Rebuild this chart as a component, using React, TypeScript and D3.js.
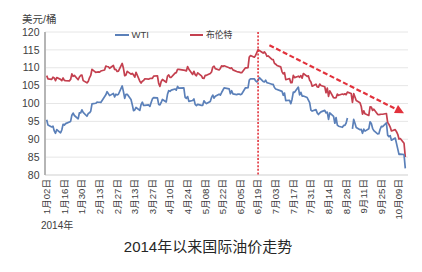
import React from "react";
import * as d3 from "d3";

// ---------- data ----------
const tradeDates = [
  "2014-01-02","2014-01-03","2014-01-06","2014-01-07","2014-01-08","2014-01-09","2014-01-10","2014-01-13","2014-01-14","2014-01-15","2014-01-16","2014-01-17","2014-01-20","2014-01-21","2014-01-22","2014-01-23","2014-01-24","2014-01-27","2014-01-28","2014-01-29","2014-01-30","2014-01-31",
  "2014-02-03","2014-02-04","2014-02-05","2014-02-06","2014-02-07","2014-02-10","2014-02-11","2014-02-12","2014-02-13","2014-02-14","2014-02-17","2014-02-18","2014-02-19","2014-02-20","2014-02-21","2014-02-24","2014-02-25","2014-02-26","2014-02-27","2014-02-28",
  "2014-03-03","2014-03-04","2014-03-05","2014-03-06","2014-03-07","2014-03-10","2014-03-11","2014-03-12","2014-03-13","2014-03-14","2014-03-17","2014-03-18","2014-03-19","2014-03-20","2014-03-21","2014-03-24","2014-03-25","2014-03-26","2014-03-27","2014-03-28","2014-03-31",
  "2014-04-01","2014-04-02","2014-04-03","2014-04-04","2014-04-07","2014-04-08","2014-04-09","2014-04-10","2014-04-11","2014-04-14","2014-04-15","2014-04-16","2014-04-17","2014-04-21","2014-04-22","2014-04-23","2014-04-24","2014-04-25","2014-04-28","2014-04-29","2014-04-30",
  "2014-05-01","2014-05-02","2014-05-05","2014-05-06","2014-05-07","2014-05-08","2014-05-09","2014-05-12","2014-05-13","2014-05-14","2014-05-15","2014-05-16","2014-05-19","2014-05-20","2014-05-21","2014-05-22","2014-05-23","2014-05-26","2014-05-27","2014-05-28","2014-05-29","2014-05-30",
  "2014-06-02","2014-06-03","2014-06-04","2014-06-05","2014-06-06","2014-06-09","2014-06-10","2014-06-11","2014-06-12","2014-06-13","2014-06-16","2014-06-17","2014-06-18","2014-06-19","2014-06-20","2014-06-23","2014-06-24","2014-06-25","2014-06-26","2014-06-27","2014-06-30",
  "2014-07-01","2014-07-02","2014-07-03","2014-07-04","2014-07-07","2014-07-08","2014-07-09","2014-07-10","2014-07-11","2014-07-14","2014-07-15","2014-07-16","2014-07-17","2014-07-18","2014-07-21","2014-07-22","2014-07-23","2014-07-24","2014-07-25","2014-07-28","2014-07-29","2014-07-30","2014-07-31",
  "2014-08-01","2014-08-04","2014-08-05","2014-08-06","2014-08-07","2014-08-08","2014-08-11","2014-08-12","2014-08-13","2014-08-14","2014-08-15","2014-08-18","2014-08-19","2014-08-20","2014-08-21","2014-08-22","2014-08-25","2014-08-26","2014-08-27","2014-08-28","2014-08-29",
  "2014-09-01","2014-09-02","2014-09-03","2014-09-04","2014-09-05","2014-09-08","2014-09-09","2014-09-10","2014-09-11","2014-09-12","2014-09-15","2014-09-16","2014-09-17","2014-09-18","2014-09-19","2014-09-22","2014-09-23","2014-09-24","2014-09-25","2014-09-26","2014-09-29","2014-09-30",
  "2014-10-01","2014-10-02","2014-10-03","2014-10-06","2014-10-07","2014-10-08","2014-10-09","2014-10-10","2014-10-13","2014-10-14",
];

const wtiPrices: (number | null)[] = [
  95.44,93.96,93.43,93.67,92.33,91.66,92.72,91.80,92.59,94.17,93.96,94.37,null,94.99,96.73,97.32,96.64,95.72,97.41,97.36,98.23,97.49,
  96.43,97.19,97.38,97.84,99.88,100.06,100.37,100.35,100.35,100.30,null,102.43,103.31,102.75,102.20,102.82,101.83,102.59,102.40,102.59,
  104.92,103.33,101.45,102.58,102.58,101.12,99.69,97.99,98.20,98.89,98.08,99.70,100.37,99.46,99.46,99.60,99.19,100.26,101.28,101.67,101.58,
  99.74,99.62,100.29,101.14,100.44,102.56,103.60,103.40,103.74,104.05,103.75,104.76,104.30,104.38,101.75,101.44,101.94,100.60,100.84,101.28,99.74,
  99.42,99.76,99.48,99.50,100.77,100.26,99.99,100.59,101.70,102.37,101.50,102.02,102.61,102.33,103.07,103.70,104.35,null,104.11,102.72,103.58,102.71,
  102.47,102.66,102.64,102.48,102.66,104.41,104.35,104.40,106.53,106.91,106.90,106.36,106.07,106.43,107.26,106.17,106.03,106.50,105.84,105.74,105.37,
  105.34,104.48,104.06,null,103.53,103.40,102.29,102.93,100.83,100.91,99.96,101.20,103.19,103.13,104.59,102.39,103.12,102.07,102.09,101.67,100.97,100.27,98.17,
  97.88,98.29,97.38,96.92,97.34,97.65,98.08,97.37,97.59,95.58,97.35,96.41,94.48,96.07,93.96,93.65,93.35,93.86,93.88,94.55,95.96,
  null,92.88,95.54,94.45,93.29,92.66,92.75,91.67,92.83,92.27,92.92,94.88,94.42,93.07,92.41,91.52,91.56,92.80,93.59,93.54,94.57,91.16,
  90.73,91.01,89.74,90.34,88.85,87.31,85.77,85.82,85.74,81.84,
];

const brentPrices: (number | null)[] = [
  107.78,106.89,106.73,107.35,107.15,106.39,107.25,106.75,106.39,107.13,106.48,106.39,106.35,106.73,108.27,107.59,107.88,106.65,107.41,107.85,107.95,106.40,
  105.78,106.17,107.18,107.84,109.57,108.68,108.80,108.82,108.79,109.08,109.36,110.47,110.35,110.29,109.85,110.64,109.51,109.52,108.96,109.07,
  111.20,109.84,107.76,107.99,109.00,108.21,108.42,108.02,107.36,108.74,106.24,105.73,106.25,106.45,106.92,106.81,106.99,107.03,107.02,107.66,107.76,
  105.62,104.79,106.15,106.72,105.93,107.67,107.98,107.32,107.33,108.50,108.63,109.56,109.53,null,109.27,109.12,110.33,109.58,108.12,108.98,108.07,
  107.76,108.59,107.72,107.06,107.04,107.89,107.89,108.41,108.83,110.19,110.44,109.75,109.37,109.81,110.55,110.36,110.54,null,110.02,109.81,109.97,109.41,
  108.94,108.82,108.80,108.61,108.61,109.99,109.99,110.03,113.02,113.41,112.94,113.45,114.26,115.06,114.81,114.12,114.46,114.00,113.21,113.30,112.36,
  112.29,111.24,111.00,110.64,110.24,108.94,108.28,108.66,106.66,106.98,105.83,105.85,107.89,107.24,107.63,107.33,107.80,107.07,108.39,107.60,107.72,106.51,106.02,
  104.84,105.41,104.61,104.59,105.44,105.02,104.68,103.02,104.29,102.01,103.53,101.60,101.56,101.65,102.63,102.29,102.65,102.49,102.72,102.46,103.19,
  102.79,100.34,102.77,101.83,100.82,100.20,99.16,97.04,97.95,97.11,96.65,99.05,98.97,98.08,98.39,96.97,96.85,96.95,97.00,97.00,97.20,94.67,
  94.16,93.42,92.31,92.69,92.11,91.38,90.05,90.21,88.89,85.04,
];

// dates where the WTI line shows a break in the source
const wtiGapDates = ["2014-09-01"];

const xTickLabels = [
  "1月02日","1月16日","1月30日","2月13日","2月27日","3月13日","3月27日","4月10日","4月24日","5月08日","5月22日",
  "6月05日","6月19日","7月03日","7月17日","7月31日","8月14日","8月28日","9月11日","9月25日","10月09日",
];
const yTicks = [80, 85, 90, 95, 100, 105, 110, 115, 120];

const seriesNames = ["WTI", "布伦特"];
const peakDate = "2014-06-19";
const trendFrom = { date: "2014-06-28", value: 116.3 };
const trendTo = { date: "2014-10-13", value: 97.3 };

const unitLabel = "美元/桶";
const yearLabel = "2014年";
const title = "2014年以来国际油价走势";

// ---------- chart ----------
const W = 422;
const H = 272;
const parse = d3.timeParse("%Y-%m-%d");
const FONT = "'Liberation Sans', Arial, 'Noto Sans CJK SC', sans-serif";
const BLUE = "#5b80b9";
const RED = "#c4404f";
const ARROW = "#e2323c";

function labelToDate(lbl: string): Date {
  const m = lbl.match(/(\d+)月(\d+)日/)!;
  return new Date(2014, +m[1] - 1, +m[2]);
}

export default function App() {
  const x = d3
    .scaleTime()
    .domain([parse("2014-01-02")!, parse("2014-10-09")!])
    .range([46.7, 399]);
  const y = d3.scaleLinear().domain([80, 120]).range([175, 32]);

  const wtiData = tradeDates
    .map((d, i) => ({ d, date: parse(d)!, v: wtiPrices[i] }))
    .filter((p) => p.v != null || wtiGapDates.includes(p.d));
  const brentData = tradeDates
    .map((d, i) => ({ d, date: parse(d)!, v: brentPrices[i] }))
    .filter((p) => p.v != null);

  const line = d3
    .line<{ date: Date; v: number | null }>()
    .defined((p) => p.v != null)
    .x((p) => x(p.date))
    .y((p) => y(p.v as number));

  const left = 45;
  const right = 408;

  const px = x(parse(peakDate)!);
  const ax1 = x(parse(trendFrom.date)!);
  const ay1 = y(trendFrom.value);
  const ax2 = x(parse(trendTo.date)!);
  const ay2 = y(trendTo.value);
  const ang = Math.atan2(ay2 - ay1, ax2 - ax1);
  const headLen = 9;
  const headW = 4.5;
  const bx = ax2 - headLen * Math.cos(ang);
  const by = ay2 - headLen * Math.sin(ang);
  const head = [
    [ax2, ay2],
    [bx + headW * Math.sin(ang), by - headW * Math.cos(ang)],
    [bx - headW * Math.sin(ang), by + headW * Math.cos(ang)],
  ]
    .map((p) => p.join(","))
    .join(" ");

  return (
    <svg
      width={W}
      height={H}
      style={{ position: "absolute", left: 0, top: 0, background: "#fff" }}
      fontFamily={FONT}
    >
      <rect width={W} height={H} fill="#fff" />
      {/* grid */}
      {yTicks.map((t) => (
        <line
          key={t}
          x1={left}
          x2={right}
          y1={y(t)}
          y2={y(t)}
          stroke={t === 80 ? "#cfcfcf" : "#e6e6e6"}
          strokeWidth={1}
        />
      ))}
      {/* y axis */}
      <line x1={left} x2={left} y1={y(120)} y2={y(80)} stroke="#b5b5b5" strokeWidth={2} />
      {yTicks.map((t) => (
        <text
          key={t}
          x={39.5}
          y={y(t)}
          dy="0.35em"
          textAnchor="end"
          fontSize={10.5}
          fill="#404040"
        >
          {t}
        </text>
      ))}
      <text x={22} y={19} dy="0.35em" fontSize={10.5} fill="#404040">
        {unitLabel}
      </text>

      {/* x labels */}
      {xTickLabels.map((lbl) => {
        const xx = x(labelToDate(lbl));
        return (
          <text
            key={lbl}
            transform={`translate(${xx},179) rotate(-90)`}
            textAnchor="end"
            dy="0.35em"
            fontSize={9.6}
            fill="#404040"
          >
            {lbl}
          </text>
        );
      })}
      <text x={41} y={225} dy="0.35em" fontSize={10} fill="#404040">
        {yearLabel}
      </text>

      {/* series */}
      <path d={line(brentData as any) || ""} fill="none" stroke={RED} strokeWidth={1.7} strokeLinejoin="round" />
      <path d={line(wtiData as any) || ""} fill="none" stroke={BLUE} strokeWidth={1.7} strokeLinejoin="round" />

      {/* peak marker */}
      <line
        x1={px}
        x2={px}
        y1={y(120)}
        y2={y(80)}
        stroke={ARROW}
        strokeWidth={1.6}
        strokeDasharray="2,1.6"
      />

      {/* trend arrow */}
      <line
        x1={ax1}
        y1={ay1}
        x2={bx}
        y2={by}
        stroke={ARROW}
        strokeWidth={2.2}
        strokeDasharray="5,2.5"
      />
      <polygon points={head} fill={ARROW} />

      {/* legend */}
      <line x1={115} x2={129} y1={35} y2={35} stroke={BLUE} strokeWidth={2} />
      <text x={131.5} y={35} dy="0.35em" fontSize={9.5} fill="#404040">
        {seriesNames[0]}
      </text>
      <line x1={190} x2={203} y1={35} y2={35} stroke={RED} strokeWidth={2} />
      <text x={206} y={35} dy="0.35em" fontSize={8.8} fill="#404040">
        {seriesNames[1]}
      </text>

      {/* title */}
      <text x={208} y={247} dy="0.35em" textAnchor="middle" fontSize={15} fill="#262626">
        {title}
      </text>
    </svg>
  );
}
